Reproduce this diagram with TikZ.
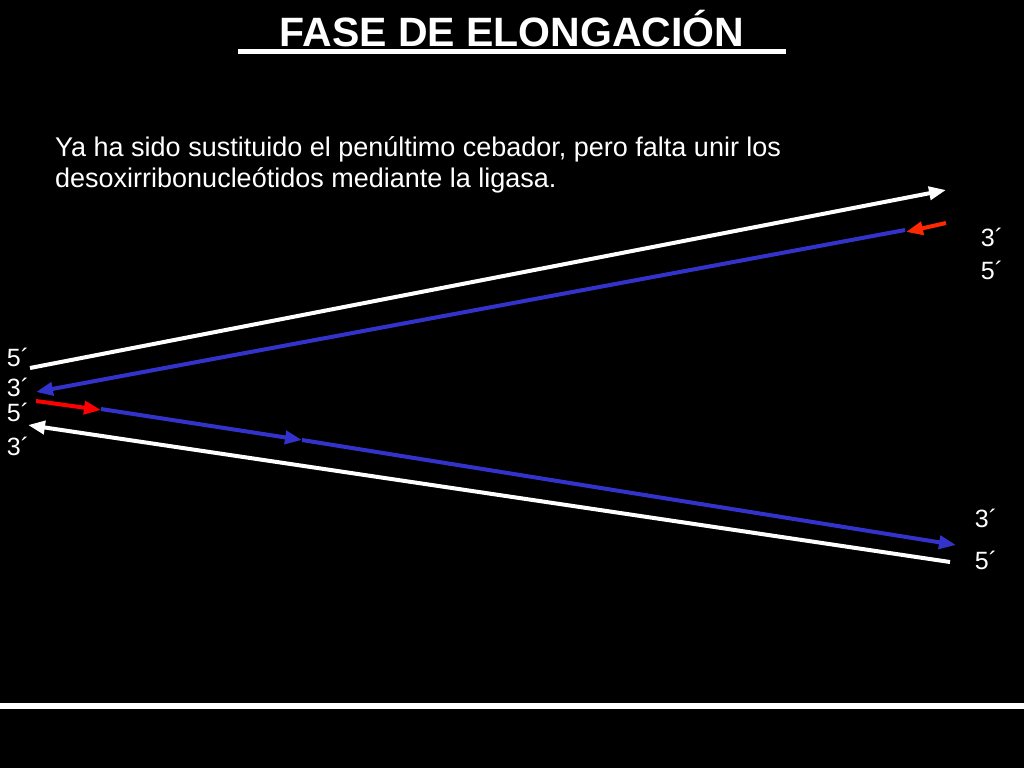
\documentclass[tikz,border=0pt]{standalone}
\usepackage{fontspec}
\setmainfont{Liberation Sans}
\usetikzlibrary{arrows.meta}
\definecolor{strandblue}{RGB}{51,51,204}
\definecolor{primerred}{RGB}{255,40,0}
\tikzset{
	strand/.style={line width=4pt, -{Triangle[length=17pt, width=13pt]}},
	nolabel/.style={text=white, font=\fontsize{25}{25}\selectfont, inner sep=0pt},
}
\begin{document}
\begin{tikzpicture}[x=1pt, y=-1pt]
	\useasboundingbox (0,0) rectangle (1024,768);
	\fill[black] (0,0) rectangle (1024,768);
	\node[text=white, font=\fontsize{41}{41}\bfseries\selectfont, inner sep=0pt, anchor=base] (title) at (512,46) {FASE DE ELONGACIÓN};
	\draw[white, line width=5pt] (238,52) -- (786,52);
	\draw[white, line width=6pt] (0,706) -- (1024,706);
	\node[text=white, font=\fontsize{27}{31}\selectfont, anchor=north west, align=left, inner sep=0pt] (note) at (55,136)
		{Ya ha sido sustituido el penúltimo cebador, pero falta unir los\\desoxirribonucleótidos mediante la ligasa.};
	% ends of the strands
	\coordinate (wa) at (30,368);   \coordinate (wb) at (946,190);
	\coordinate (ba) at (905,230);  \coordinate (bb) at (36,392);
	\coordinate (ra) at (946,223);  \coordinate (rb) at (906,232);
	\coordinate (rc) at (36,401);   \coordinate (rd) at (101,410);
	\coordinate (bc) at (101,409);  \coordinate (bd) at (302,440);
	\coordinate (be) at (302,440);  \coordinate (bf) at (956,545);
	\coordinate (wc) at (950,562);  \coordinate (wd) at (28,425);
	\draw[strand, white] (wa) -- (wb);
	\draw[strand, strandblue] (ba) -- (bb);
	\draw[strand, primerred] (ra) -- (rb);
	\draw[strand, red] (rc) -- (rd);
	\draw[strand, strandblue] (bc) -- (bd);
	\draw[strand, strandblue] (be) -- (bf);
	\draw[strand, white] (wc) -- (wd);
	% labels
	\node[nolabel] (l1) at (18,357) {5´};
	\node[nolabel] (l2) at (18,387) {3´};
	\node[nolabel] (l3) at (18,412) {5´};
	\node[nolabel] (l4) at (18,446) {3´};
	\node[nolabel] (r1) at (992,237) {3´};
	\node[nolabel] (r2) at (992,270) {5´};
	\node[nolabel] (r3) at (986,518) {3´};
	\node[nolabel] (r4) at (986,560) {5´};
\end{tikzpicture}
\end{document}
